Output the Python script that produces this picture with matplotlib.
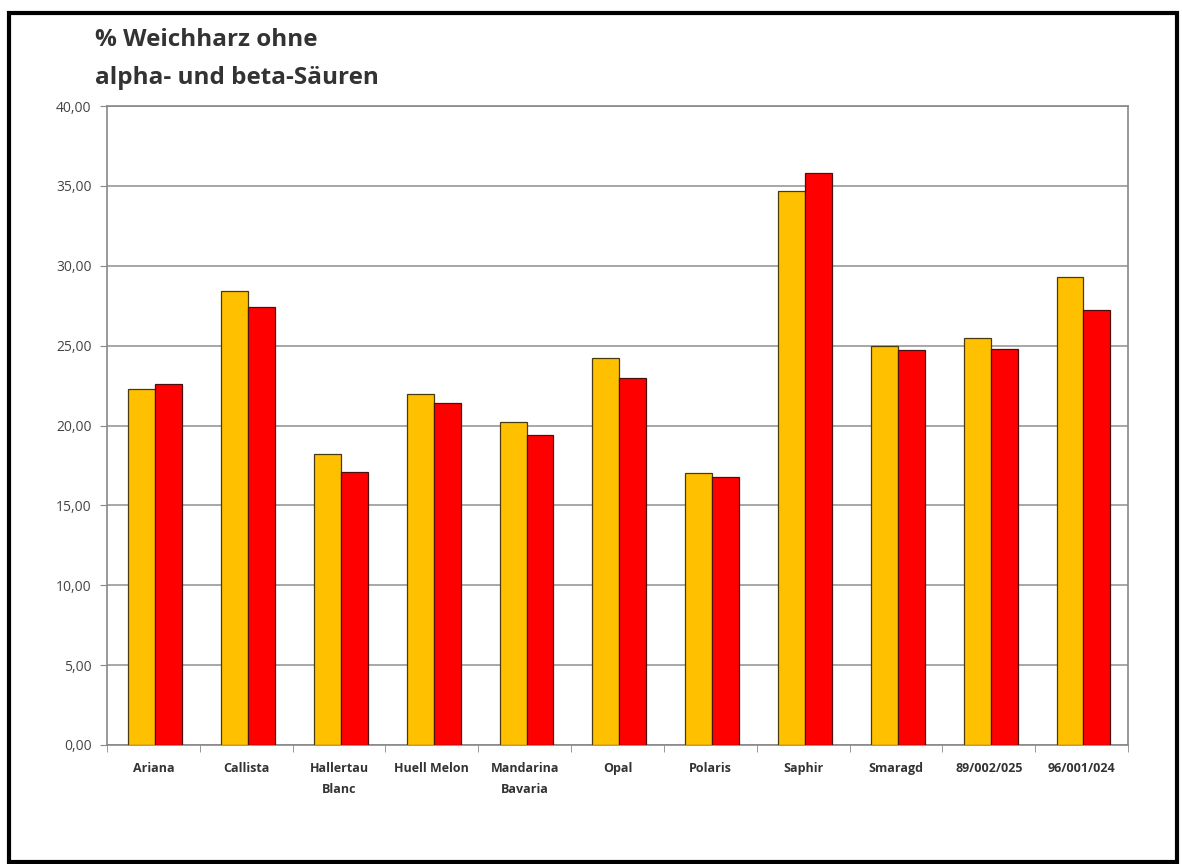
import matplotlib.pyplot as plt
import numpy as np
from matplotlib.patches import Rectangle
from matplotlib.ticker import FuncFormatter

sorten = ["Ariana", "Callista", "Hallertau\nBlanc", "Huell Melon", "Mandarina\nBavaria",
          "Opal", "Polaris", "Saphir", "Smaragd", "89/002/025", "96/001/024"]
werte_gelb = [22.3, 28.4, 18.2, 22.0, 20.2, 24.2, 17.0, 34.7, 25.0, 25.5, 29.3]
werte_rot = [22.6, 27.4, 17.1, 21.4, 19.4, 23.0, 16.8, 35.8, 24.7, 24.8, 27.2]
y_ticks = [0, 5, 10, 15, 20, 25, 30, 35, 40]

plt.rcParams['font.family'] = ['Open Sans', 'DejaVu Sans']

fig = plt.figure(figsize=(11.82, 8.64), dpi=100)
ax = fig.add_axes([107 / 1182, 1 - 745 / 864, (1128 - 107) / 1182, (745 - 106) / 864])

x = np.arange(len(sorten))
w = 0.29
ax.bar(x - w / 2 + 0.02, werte_gelb, w, color="#FFC000", edgecolor="#4a3a10", linewidth=0.9, zorder=3)
ax.bar(x + w / 2 + 0.02, werte_rot, w, color="#FF0000", edgecolor="#4a1010", linewidth=0.9, zorder=3)

ax.set_ylim(0, 40)
ax.set_xlim(-0.5, len(sorten) - 0.5)
ax.set_yticks(y_ticks)
ax.yaxis.set_major_formatter(FuncFormatter(lambda v, p: f"{v:.2f}".replace(".", ",")))
ax.grid(axis="y", color="#a0a0a0", linewidth=1.3, zorder=0)

ax.set_xticks(x)
ax.set_xticklabels(sorten, fontsize=9, fontweight="bold", color="#333333", linespacing=1.8)
ax.tick_params(axis="x", length=0, pad=12)
ax.set_xticks(np.arange(len(sorten) + 1) - 0.5, minor=True)
ax.tick_params(axis="x", which="minor", length=5, color="#888888")
ax.tick_params(axis="y", labelsize=10, colors="#444444", length=5, pad=6)
ax.tick_params(axis="y", color="#888888")

for s in ax.spines.values():
    s.set_color("#888888")
    s.set_linewidth(1.2)

fig.text(95 / 1182, 1 - 40 / 864, "% Weichharz ohne", fontsize=17.5, fontweight="bold",
         color="#333333", va="center", ha="left")
fig.text(95 / 1182, 1 - 78 / 864, "alpha- und beta-Säuren", fontsize=17.5, fontweight="bold",
         color="#333333", va="center", ha="left")

fig.patches.append(Rectangle((9 / 1182, 2 / 864), 1168 / 1182, 849 / 864, transform=fig.transFigure,
                             fill=False, edgecolor="black", linewidth=3))

fig.savefig("out.png", dpi=100)
